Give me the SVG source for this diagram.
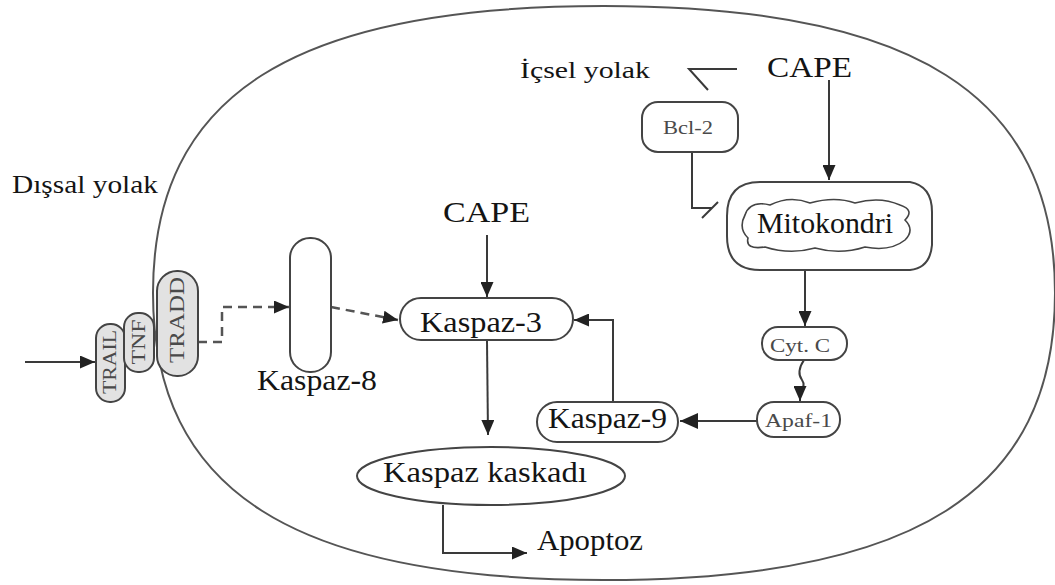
<svg xmlns="http://www.w3.org/2000/svg" width="1055" height="585" viewBox="0 0 1055 585">
<style>
.box{fill:#fff;stroke:#444;stroke-width:2}
.gbox{fill:#e2e2e2;stroke:#444;stroke-width:2}
.ln{fill:none;stroke:#3a3a3a;stroke-width:2}
.dash{fill:none;stroke:#555;stroke-width:2.5;stroke-dasharray:9 6}
.t{fill:#141414}
.s{fill:#4a4a4a}
</style>
<defs>
<marker id="arr" viewBox="0 0 15 13" refX="15" refY="6.5" markerWidth="15" markerHeight="13" markerUnits="userSpaceOnUse" orient="auto">
<path d="M0,0 L15,6.5 L0,13 z" fill="#222"/>
</marker>
<marker id="arrBig" viewBox="0 0 18 16" refX="18" refY="8" markerWidth="18" markerHeight="16" markerUnits="userSpaceOnUse" orient="auto">
<path d="M0,0 L18,8 L0,16 z" fill="#222"/>
</marker>
</defs>
<rect width="1055" height="585" fill="#fff"/>
<g id="cell">
<path d="M 1055 293 C 1055 491, 915 580, 604 580 C 293 580, 153 491, 153 293 C 153 95, 293 6, 604 6 C 915 6, 1055 95, 1055 293 Z" fill="none" stroke="#555" stroke-width="2"/>
</g>
<g id="labels" font-family="'Liberation Serif', Tinos, 'DejaVu Serif', 'Times New Roman', serif">
<text class="t" x="12" y="193" font-size="26" textLength="146" lengthAdjust="spacingAndGlyphs">Dışsal yolak</text>
<text class="t" x="520" y="78" font-size="24" textLength="130" lengthAdjust="spacingAndGlyphs">İçsel yolak</text>
<text class="t" x="767" y="77" font-size="30" textLength="85" lengthAdjust="spacingAndGlyphs">CAPE</text>
<text class="t" x="443" y="222" font-size="30" textLength="87" lengthAdjust="spacingAndGlyphs">CAPE</text>
<text class="t" x="537" y="550" font-size="29" textLength="106" lengthAdjust="spacingAndGlyphs">Apoptoz</text>
</g>
<g id="connectors">
<path class="ln" d="M 25 362 L 95 362" marker-end="url(#arr)"/>
<path class="dash" d="M 198 342 L 222 342 L 222 307 L 289 307" marker-end="url(#arr)"/>
<path class="dash" d="M 331 307 L 398 320" marker-end="url(#arr)"/>
<path class="ln" d="M 487 235 L 487 297" marker-end="url(#arr)"/>
<path class="ln" d="M 487 341 L 488 435" marker-end="url(#arr)"/>
<path class="ln" d="M 443 505 L 443 553 L 527 553" marker-end="url(#arr)"/>
<path class="ln" d="M 613 402 L 613 320 L 574 320" marker-end="url(#arr)"/>
<path class="ln" d="M 757 421 L 680 421" marker-end="url(#arrBig)"/>
<path class="ln" d="M 804 360 Q 796 372 802 380 Q 806 386 800 390 L 800 401" marker-end="url(#arr)"/>
<path class="ln" d="M 805 270 L 805 326" marker-end="url(#arr)"/>
<path class="ln" d="M 829 80 L 829 180" marker-end="url(#arr)"/>
<path class="ln" d="M 737 69 L 689 69 L 708 90"/>
<path class="ln" d="M 692 152 L 692 208 L 712 208"/>
<path class="ln" d="M 702 218 L 718 202"/>
</g>
<g font-family="'Liberation Serif', Tinos, 'DejaVu Serif', 'Times New Roman', serif">
<g id="trail">
<rect class="gbox" x="96" y="324" width="29" height="78" rx="14"/>
<text class="s" x="110" y="368" font-size="18" text-anchor="middle" textLength="64" lengthAdjust="spacingAndGlyphs" transform="rotate(-90 110 362)">TRAIL</text>
</g>
<g id="tnf">
<rect class="gbox" x="124" y="313" width="30" height="59" rx="14"/>
<text class="s" x="139" y="348" font-size="18" text-anchor="middle" textLength="45" lengthAdjust="spacingAndGlyphs" transform="rotate(-90 139 342)">TNF</text>
</g>
<g id="tradd">
<rect class="gbox" x="157" y="271" width="41" height="105" rx="20"/>
<text class="s" x="177" y="327" font-size="21" text-anchor="middle" textLength="86" lengthAdjust="spacingAndGlyphs" transform="rotate(-90 177 320)">TRADD</text>
</g>
<g id="kaspaz8">
<rect class="box" x="290" y="238" width="41" height="134" rx="20"/>
<text class="t" x="257" y="390" font-size="29" textLength="120" lengthAdjust="spacingAndGlyphs">Kaspaz-8</text>
</g>
<g id="kaspaz3">
<rect class="box" x="400" y="298" width="173" height="42" rx="21"/>
<text class="t" x="420" y="332" font-size="29" textLength="122" lengthAdjust="spacingAndGlyphs">Kaspaz-3</text>
</g>
<g id="kaskad">
<ellipse class="box" cx="491" cy="476" rx="134" ry="29"/>
<text class="t" x="383" y="482" font-size="29" textLength="204" lengthAdjust="spacingAndGlyphs">Kaspaz kaskadı</text>
</g>
<g id="kaspaz9">
<rect class="box" x="537" y="402" width="141" height="40" rx="20"/>
<text class="t" x="548" y="428" font-size="29" textLength="119" lengthAdjust="spacingAndGlyphs">Kaspaz-9</text>
</g>
<g id="apaf1">
<rect class="box" x="757" y="402" width="83" height="35" rx="17"/>
<text class="s" x="765" y="427" font-size="18" textLength="67" lengthAdjust="spacingAndGlyphs">Apaf-1</text>
</g>
<g id="cytc">
<rect class="box" x="762" y="327" width="85" height="33" rx="16"/>
<text class="s" x="770" y="352" font-size="18" textLength="60" lengthAdjust="spacingAndGlyphs">Cyt. C</text>
</g>
<g id="bcl2">
<rect class="box" x="642" y="102" width="96" height="50" rx="16"/>
<text class="s" x="663" y="134" font-size="19" textLength="50" lengthAdjust="spacingAndGlyphs">Bcl-2</text>
</g>
<g id="mitokondri">
<path class="box" d="M 760 182 L 910 182 Q 932 186 932 212 L 932 245 Q 930 268 910 270 L 760 270 Q 727 270 727 236 L 727 216 Q 727 182 760 182 Z"/>
<path d="M 745 215 Q 750 200 770 205 Q 790 195 810 203 Q 835 196 855 203 Q 880 196 900 205 Q 915 210 905 220 Q 915 230 905 240 Q 890 252 865 247 Q 840 255 815 248 Q 790 255 765 247 Q 745 250 748 238 Q 738 228 745 215 Z" fill="#fff" stroke="#444" stroke-width="1.6"/>
<text class="t" x="757" y="233" font-size="29" textLength="136" lengthAdjust="spacingAndGlyphs">Mitokondri</text>
</g>
</g>
</svg>
